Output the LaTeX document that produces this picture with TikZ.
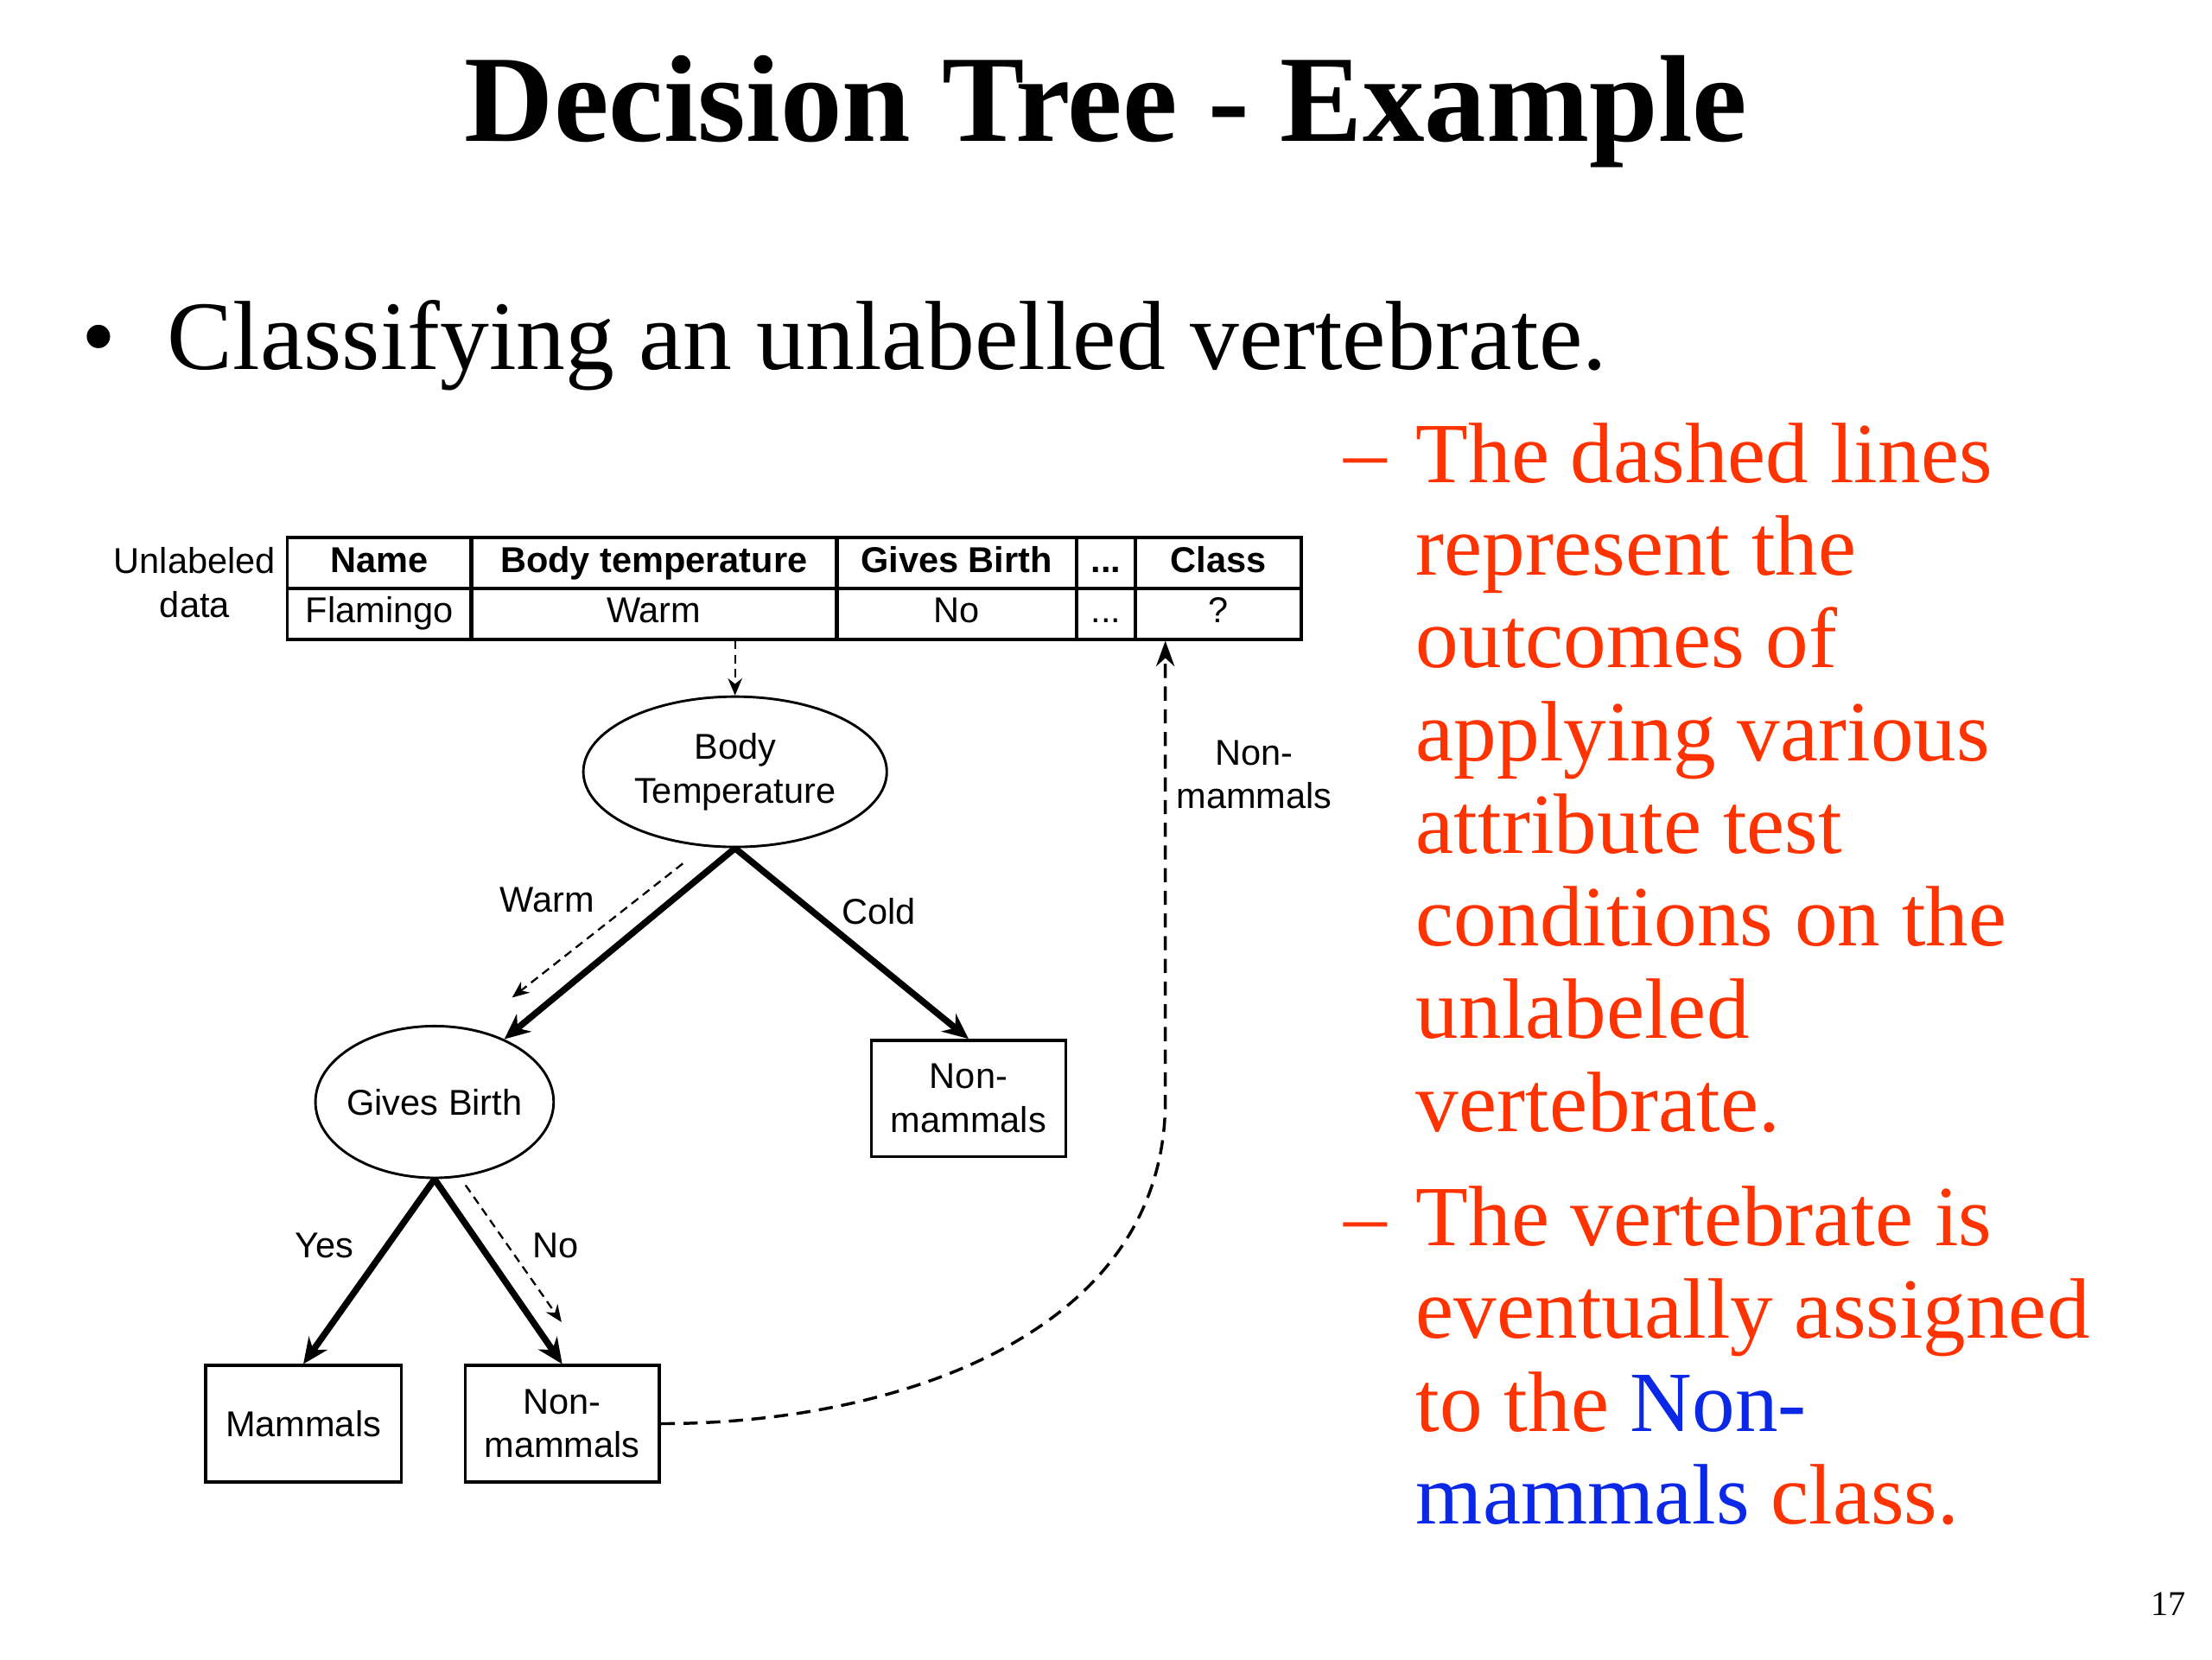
\documentclass[tikz,border=0pt]{standalone}
\usepackage{fontspec}
\setmainfont{Liberation Serif}
\setsansfont{Liberation Sans}
\usepackage{tikz}
\usetikzlibrary{arrows.meta,shapes.geometric}
\usepackage{xcolor}
\definecolor{slidered}{RGB}{255,51,0}
\definecolor{slideblue}{RGB}{10,40,230}

\newcommand{\diagfont}{\sffamily\fontsize{7.2}{8.8}\selectfont}
\newcommand{\itemfont}{\fontsize{17.2}{18.6}\selectfont}

\tikzset{
  cell/.style={rectangle, draw, line width=0.6pt, minimum height=0.36cm, inner sep=0pt, text height=0.185cm, text depth=0.055cm, font=\diagfont},
  test/.style={ellipse, draw, line width=0.5pt, inner sep=0pt, align=center, font=\diagfont},
  leaf/.style={rectangle, draw, line width=0.6pt, minimum width=1.37cm, minimum height=0.82cm, align=center, font=\diagfont},
  branch/.style={line width=1.3pt, -{Stealth[length=1.8mm,width=1.6mm]}},
  trace/.style={line width=0.4pt, dash pattern=on 0.6mm off 0.4mm, -{Stealth[length=1.2mm,width=1mm]}},
  back/.style={line width=0.6pt, dash pattern=on 1mm off 0.6mm, -{Stealth[length=1.8mm,width=1.3mm]}},
  edgelabel/.style={inner sep=0pt, align=center, font=\diagfont},
}

\begin{document}
\begin{tikzpicture}
          % Page
          \useasboundingbox (0,0) rectangle (15.6,11.7);

          \begin{scope}[yshift=0.0585cm, scale=0.995]
          % Title and bullet
          \node[anchor=base, font=\bfseries\fontsize{24.8}{30}\selectfont] (title) at (7.84,10.70) {Decision Tree - Example};
          \node[anchor=base, font=\fontsize{19.7}{24}\selectfont] (dot) at (0.70,9.08) {\textbullet};
          \node[anchor=base west, inner sep=0pt, font=\fontsize{19.7}{24}\selectfont] (point) at (1.18,9.08) {Classifying an unlabelled vertebrate.};

          % Sub-items
          \node[anchor=base west, inner sep=0pt, text=slidered, font=\itemfont] (dash1) at (9.52,8.29) {--};
          \node[anchor=north west, inner sep=0pt, align=left, text=slidered, font=\itemfont] (item1) at (10.03,8.71)
            {The dashed lines\\represent the\\outcomes of\\applying various\\attribute test\\conditions on the\\unlabeled\\vertebrate.};
          \node[anchor=base west, inner sep=0pt, text=slidered, font=\itemfont] (dash2) at (9.52,2.88) {--};
          \node[anchor=north west, inner sep=0pt, align=left, text=slidered, font=\itemfont] (item2) at (10.03,3.30)
            {The vertebrate is\\eventually assigned\\to the \textcolor{slideblue}{Non-}\\\textcolor{slideblue}{mammals} class.};

          % Unlabeled record
          \node[edgelabel] (unl) at (1.38,7.57) {Unlabeled\\data};
          \node[cell, minimum width=1.30cm, font=\diagfont\bfseries] (h1) at (2.69,7.71) {Name};
          \node[cell, minimum width=2.59cm, font=\diagfont\bfseries] (h2) at (4.635,7.71) {Body temperature};
          \node[cell, minimum width=1.70cm, font=\diagfont\bfseries] (h3) at (6.78,7.71) {Gives Birth};
          \node[cell, minimum width=0.42cm, font=\diagfont\bfseries] (h4) at (7.84,7.71) {...};
          \node[cell, minimum width=1.17cm, font=\diagfont\bfseries] (h5) at (8.635,7.71) {Class};
          \node[cell, minimum width=1.30cm] (r1) at (2.69,7.35) {Flamingo};
          \node[cell, minimum width=2.59cm] (r2) at (4.635,7.35) {Warm};
          \node[cell, minimum width=1.70cm] (r3) at (6.78,7.35) {No};
          \node[cell, minimum width=0.42cm] (r4) at (7.84,7.35) {...};
          \node[cell, minimum width=1.17cm] (r5) at (8.635,7.35) {?};

          % Tree
          \node[test, minimum width=2.14cm, minimum height=1.06cm] (bt) at (5.21,6.23) {Body\\Temperature};
          \node[test, inner xsep=-0.04cm, minimum width=1.68cm, minimum height=1.07cm] (gb) at (3.08,3.89) {Gives Birth};
          \node[leaf] (nm1) at (6.865,3.915) {Non-\\mammals};
          \node[leaf, minimum width=1.38cm] (mam) at (2.15,1.61) {Mammals};
          \node[leaf] (nm2) at (3.985,1.61) {Non-\\mammals};

          \draw[branch] (bt.south) -- (gb.42);
          \draw[branch] (bt.south) -- (nm1.north);
          \draw[branch] (gb.south) -- (mam.north);
          \draw[branch] (gb.south) -- (nm2.north);

          \node[edgelabel] (lwarm) at (3.88,5.32) {Warm};
          \node[edgelabel] (lcold) at (6.23,5.24) {Cold};
          \node[edgelabel] (lyes) at (2.30,2.87) {Yes};
          \node[edgelabel] (lno) at (3.94,2.87) {No};

          % Path of the record
          \coordinate (w1) at (4.84,5.58);
          \coordinate (w2) at (3.63,4.63);
          \coordinate (n1) at (3.30,3.30);
          \coordinate (n2) at (3.98,2.33);
          \coordinate (turn) at (8.26,3.90);
          \draw[trace] (bt.north |- r2.south) -- (bt.north);
          \draw[trace] (w1) -- (w2);
          \draw[trace] (n1) -- (n2);
          \draw[back] (nm2.east) to[out=0,in=-90] (turn) -- (turn |- r5.south);
          \node[edgelabel] (lback) at (8.89,6.21) {Non-\\mammals};

          % Slide number
          \node[font=\fontsize{7}{8}\selectfont] (page) at (15.37,0.33) {17};
          \end{scope}

        \end{tikzpicture}
\end{document}
